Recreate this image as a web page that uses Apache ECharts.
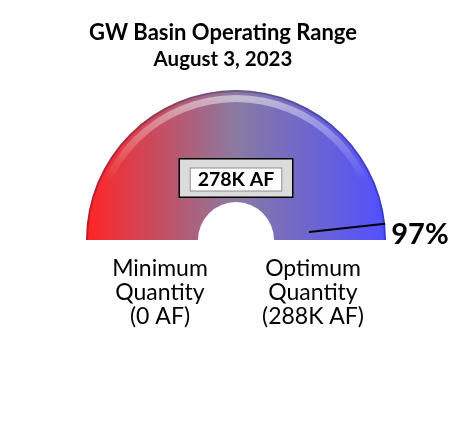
<!DOCTYPE html>
<html>
<head>
<meta charset="utf-8">
<script src="https://cdn.jsdelivr.net/npm/echarts@6/dist/echarts.min.js"></script>
<style>
    html, body { margin: 0; padding: 0; background: #fff; }
    #main { width: 471px; height: 445px; }
</style>
</head>
<body>
<div id="main"></div>
<script>
// chart text
const chartTitle = 'GW Basin Operating Range';
const chartDate = 'August 3, 2023';

// gauge range, in K AF
const rangeMin = [0];
const rangeMax = [288];
// current storage, in K AF
const storageValue = [278];

const endNames = ['Minimum\nQuantity', 'Optimum\nQuantity'];
const endUnits = [' AF', 'K AF'];

const font = 'Lato, "Open Sans", sans-serif';
const cx = 236, cy = 240, R = 150, holeR = 38;

const chart = echarts.init(document.getElementById('main'), null, { renderer: 'canvas' });

const pct = Math.round((storageValue[0] - rangeMin[0]) / (rangeMax[0] - rangeMin[0]) * 100);

const baseGauge = {
    type: 'gauge',
    center: [cx, cy],
    radius: R,
    startAngle: 180,
    endAngle: 0,
    min: rangeMin[0],
    max: rangeMax[0],
    splitLine: { show: false },
    axisTick: { show: false },
    axisLabel: { show: false },
    title: { show: false },
    progress: { show: false }
};

const endLabelStyle = { fontFamily: font, fontWeight: 'normal', fontSize: 23, lineHeight: 24, color: '#000', align: 'center' };

const option = {
    animation: false,
    title: [
        {
            text: chartTitle,
            subtext: chartDate,
            left: 218,
            textAlign: 'center',
            top: 17,
            itemGap: 5,
            textStyle: { fontFamily: font, fontWeight: 'bold', fontSize: 22, color: '#000' },
            subtextStyle: { fontFamily: font, fontWeight: 'bold', fontSize: 20.5, color: '#000' }
        },
        {
            text: endNames[0] + '\n(' + rangeMin[0] + endUnits[0] + ')',
            left: 155,
            top: 252,
            textAlign: 'center',
            textStyle: endLabelStyle
        },
        {
            text: endNames[1] + '\n(' + rangeMax[0] + endUnits[1] + ')',
            left: 308,
            top: 252,
            textAlign: 'center',
            textStyle: endLabelStyle
        }
    ],
    series: [
        // main coloured band with needle and value box
        Object.assign({}, baseGauge, {
            axisLine: {
                lineStyle: {
                    width: R - holeR,
                    color: [[1, new echarts.graphic.LinearGradient(0, 0, 1, 0, [
                        { offset: 0, color: '#ff2424' },
                        { offset: 0.5, color: '#8a7aa2' },
                        { offset: 1, color: '#5050ff' }
                    ])]]
                }
            },
            pointer: {
                show: true,
                icon: 'path://M0 0L1 0L1 51L0 51Z M0 100L1 100',
                length: '100%',
                width: 2,
                itemStyle: { color: '#000' }
            },
            anchor: { show: false },
            detail: {
                offsetCenter: [0, -62],
                valueAnimation: false,
                formatter: '{v|{value}K AF}',
                backgroundColor: '#dcdcdc',
                borderColor: '#000',
                borderWidth: 1.5,
                padding: [8, 6, 5, 6],
                rich: {
                    v: {
                        fontFamily: font,
                        fontWeight: 'bold',
                        fontSize: 19.5,
                        lineHeight: 24,
                        color: '#000',
                        backgroundColor: '#fff',
                        borderColor: '#8c8c8c',
                        borderWidth: 1,
                        padding: [1, 7]
                    }
                }
            },
            data: [{ value: storageValue[0] }]
        }),
        // bevel highlight near the outer rim
        Object.assign({}, baseGauge, {
            radius: R - 5,
            axisLine: {
                lineStyle: {
                    width: 7,
                    color: [[1, new echarts.graphic.LinearGradient(0, 0, 0, 1, [
                        { offset: 0, color: 'rgba(255,255,255,0.5)' },
                        { offset: 0.6, color: 'rgba(255,255,255,0)' }
                    ])]]
                }
            },
            pointer: { show: false },
            anchor: { show: false },
            detail: { show: false },
            data: [{ value: storageValue[0] }]
        }),
        // darker outer edge
        Object.assign({}, baseGauge, {
            axisLine: { lineStyle: { width: 2, color: [[1, 'rgba(0,0,60,0.25)']] } },
            pointer: { show: false },
            anchor: { show: false },
            detail: { show: false },
            data: [{ value: storageValue[0] }]
        }),
        // percent label at the right end
        Object.assign({}, baseGauge, {
            axisLine: { show: false },
            pointer: { show: false },
            anchor: { show: false },
            detail: {
                offsetCenter: [184, -5],
                formatter: function () { return pct + '%'; },
                fontFamily: font,
                fontWeight: 'bold',
                fontSize: 29,
                color: '#000'
            },
            data: [{ value: storageValue[0] }]
        })
    ]
};

chart.setOption(option);
window.addEventListener('resize', function () {
    chart.resize();
});
</script>
</body>
</html>
